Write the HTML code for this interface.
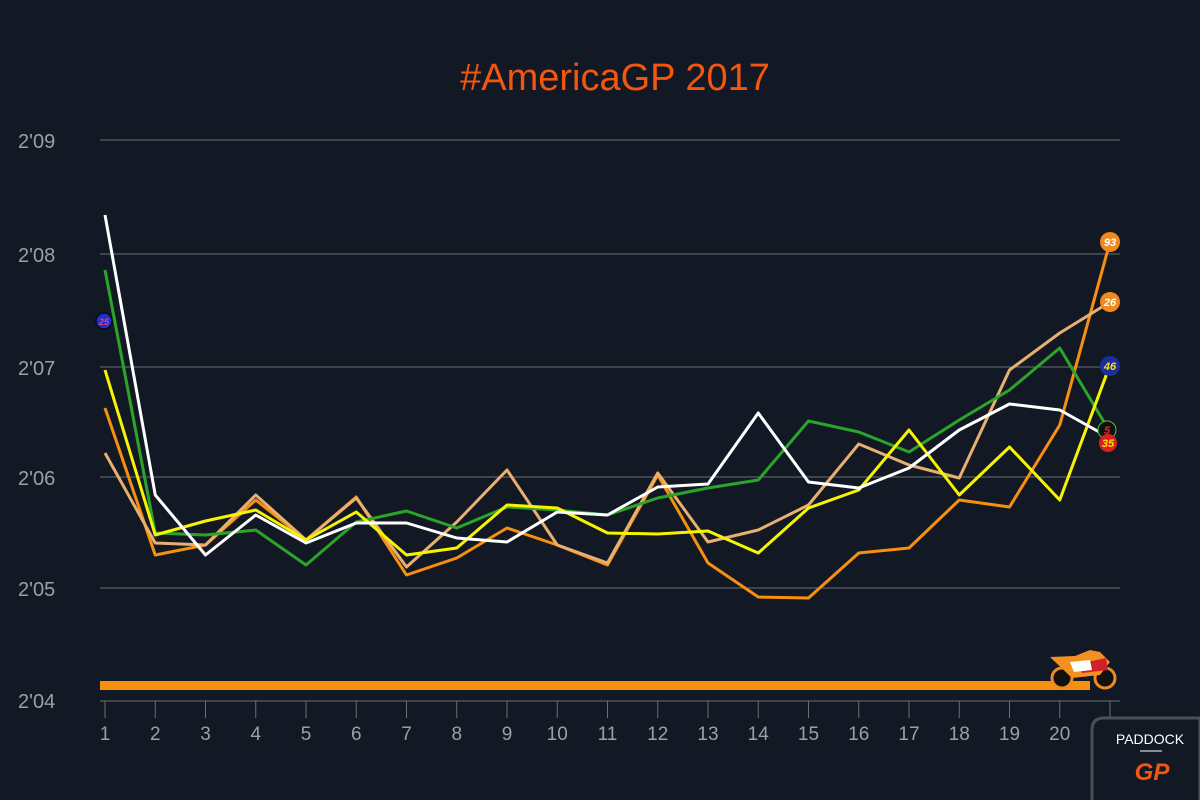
<!DOCTYPE html>
<html><head><meta charset="utf-8"><style>
body{margin:0;background:#131924;}
svg{display:block;font-family:"Liberation Sans",sans-serif;}
</style></head><body>
<svg width="1200" height="800" viewBox="0 0 1200 800">
<rect width="1200" height="800" fill="#131924"/>
<text x="615" y="90" text-anchor="middle" font-size="38" fill="#f2560f">#AmericaGP 2017</text>
<g stroke="#6a6f78" stroke-width="1">
<line x1="100" y1="140" x2="1120" y2="140"/><line x1="100" y1="254" x2="1120" y2="254"/>
<line x1="100" y1="367" x2="1120" y2="367"/><line x1="100" y1="477" x2="1120" y2="477"/>
<line x1="100" y1="588" x2="1120" y2="588"/><line x1="100" y1="701" x2="1120" y2="701"/>
</g>
<g fill="#9aa0a8" font-size="20">
<text x="18" y="148">2'09</text><text x="18" y="262">2'08</text><text x="18" y="375">2'07</text>
<text x="18" y="485">2'06</text><text x="18" y="596">2'05</text><text x="18" y="708">2'04</text>
</g>
<g id="ticks" stroke="#6a6f78"></g>
<g id="xl" fill="#9aa0a8" font-size="19" text-anchor="middle"></g>
<rect x="100" y="681" width="990" height="9" fill="#f7900f"/>
<g id="lines" fill="none" stroke-width="3" stroke-linejoin="round"></g>
<circle cx="104" cy="321" r="8" fill="#1b2ed0" stroke="#000"/>
<text x="104" y="325" font-size="9" fill="#f04060" text-anchor="middle" font-style="italic" font-weight="bold">25</text>
<g font-size="11" font-weight="bold" font-style="italic" text-anchor="middle">
<circle cx="1110" cy="242" r="10" fill="#f08a20"/><text x="1110" y="246" fill="#fff">93</text>
<circle cx="1110" cy="302" r="10" fill="#f08a20"/><text x="1110" y="306" fill="#fff">26</text>
<circle cx="1110" cy="366" r="10" fill="#1b2e9a"/><text x="1110" y="370" fill="#ffe000">46</text>
<circle cx="1107" cy="430" r="9" fill="#111" stroke="#4c4"/><text x="1107" y="434" fill="#e22">5</text>
<circle cx="1108" cy="443" r="9" fill="#d82020"/><text x="1108" y="447" fill="#ffe000">35</text>
</g>
<g>
<circle cx="1062" cy="678" r="10" fill="#111" stroke="#f08a20" stroke-width="3"/>
<circle cx="1105" cy="678" r="10" fill="#111" stroke="#f08a20" stroke-width="3"/>
<path d="M1050 657 L1075 656 L1090 650 L1100 652 L1110 662 L1100 675 L1072 678 Z" fill="#f39020"/>
<path d="M1078 664 L1106 658 L1108 670 L1082 673 Z" fill="#d0202a"/>
<path d="M1070 662 L1090 660 L1092 670 L1074 672 Z" fill="#fff"/>
</g>
<path d="M1092 800 L1092 730 Q1092 718 1104 718 L1200 718 L1200 800" fill="#131924" stroke="#4a4f58" stroke-width="3"/>
<text x="1150" y="744" fill="#fff" font-size="14" text-anchor="middle">PADDOCK</text>
<line x1="1140" y1="751" x2="1162" y2="751" stroke="#fff"/>
<text x="1152" y="780" fill="#f2560f" font-size="24" font-weight="bold" font-style="italic" text-anchor="middle">GP</text>
</svg>
<script>
const ns="http://www.w3.org/2000/svg";
const X=i=>105+(i-1)*50.25;
let t=document.getElementById('ticks'),xl=document.getElementById('xl');
for(let i=1;i<=21;i++){let l=document.createElementNS(ns,'line');l.setAttribute('x1',X(i));l.setAttribute('x2',X(i));l.setAttribute('y1',701);l.setAttribute('y2',718);t.appendChild(l);
if(i<=20){let s=document.createElementNS(ns,'text');s.setAttribute('x',X(i));s.setAttribute('y',740);s.textContent=i;xl.appendChild(s);}}
const S=[
["#f7900f",[408,555,545,500,540,497,575,558,528,545,565,475,563,597,598,553,548,500,507,425,242]],
["#e8b070",[453,543,545,495,540,498,567,522,470,545,563,473,542,530,505,444,465,478,370,333,302]],
["#2aa52a",[270,533,535,530,565,522,511,528,507,510,515,498,488,480,421,432,452,420,390,348,432]],
["#f5f500",[370,535,521,510,540,512,555,548,505,508,533,534,531,553,508,490,430,495,447,500,365]],
["#ffffff",[215,495,555,515,543,523,523,538,542,512,515,487,484,413,482,488,468,430,404,410,438]]];
let g=document.getElementById('lines');
S.forEach(([c,d])=>{let p=document.createElementNS(ns,'polyline');p.setAttribute('stroke',c);p.setAttribute('points',d.map((y,i)=>X(i+1)+','+y).join(' '));g.appendChild(p);});
</script>
</body></html>
